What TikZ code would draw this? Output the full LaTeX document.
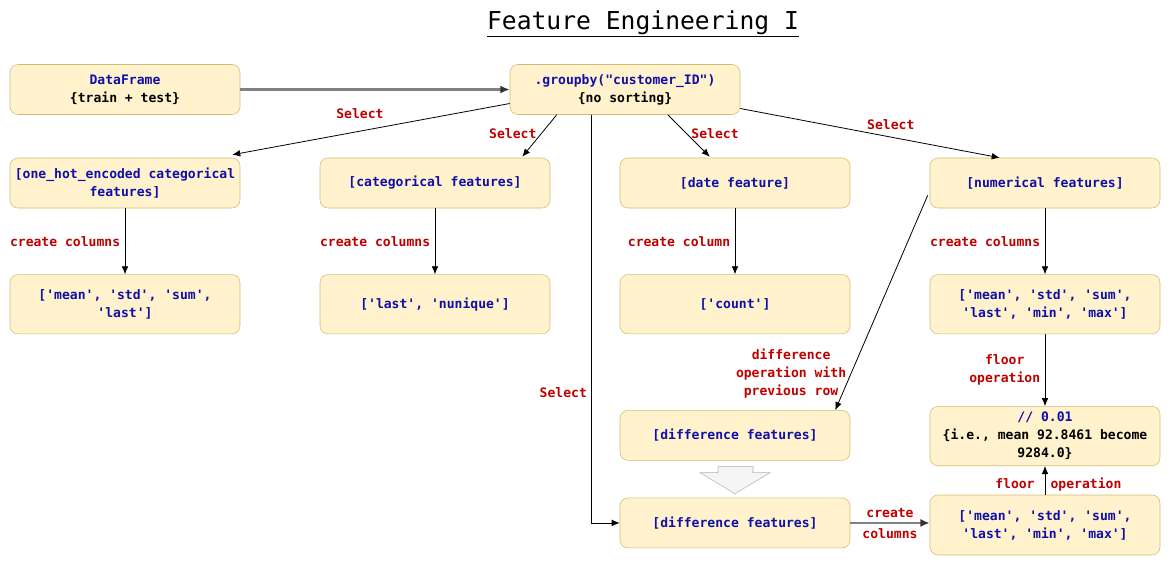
\documentclass[tikz,border=0pt]{standalone}
\usepackage{fontspec}
\setmonofont{DejaVu Sans Mono}
\usepackage{xcolor}
\usepackage{tikz}
\usetikzlibrary{arrows.meta,positioning,calc}

\definecolor{boxfill}{RGB}{255,242,204}
\definecolor{boxline}{RGB}{210,185,115}
\definecolor{boxtext}{RGB}{15,15,170}
\definecolor{lblred}{RGB}{190,0,0}

\begin{document}
\begin{tikzpicture}[x=0.75pt,y=-0.75pt,>={Latex[length=6pt,width=5pt]},
  feat/.style={rectangle,rounded corners=6pt,draw=boxline,fill=boxfill,text=boxtext,
    minimum width=172.5pt,minimum height=37.5pt,align=center,
    font=\ttfamily\bfseries\fontsize{9.8}{13.5}\selectfont},
  tall/.style={feat,minimum height=44.5pt},
  lbl/.style={text=lblred,align=center,font=\ttfamily\bfseries\fontsize{9.8}{13.5}\selectfont},
  link/.style={->,line width=0.6pt},
  mainlink/.style={-{Latex[length=7pt,width=6pt,color=black!80]},line width=1.6pt,draw=gray}]
\useasboundingbox (0,0) rectangle (1174,565);

\node (title) at (643,24) {\ttfamily\fontsize{18.5}{22}\selectfont\underline{Feature Engineering I}};

\node[feat] (df) at (125,89.5) {DataFrame\\\color{black}\{train + test\}};
\node[feat] (grp) at (625,89.5) {.groupby("customer\_ID")\\\color{black}\{no sorting\}};

\node[feat] (ohe) at (125,183) {[one\_hot\_encoded categorical\\features]};
\node[feat] (cat) at (435,183) {[categorical features]};
\node[feat] (date) at (735,183) {[date feature]};
\node[feat] (num) at (1045,183) {[numerical features]};

\node[tall,below=49.5pt of ohe] (ohecols) {['mean', 'std', 'sum',\\'last']};
\node[tall,below=49.5pt of cat] (catcols) {['last', 'nunique']};
\node[tall,below=49.5pt of date] (cnt) {['count']};
\node[tall,below=49.5pt of num] (numcols) {['mean', 'std', 'sum',\\'last', 'min', 'max']};
\node[tall,below=54pt of numcols] (flr) {// 0.01\\\color{black}\{i.e., mean 92.8461 become\\\color{black}9284.0\}};

\node[feat,below=57pt of cnt] (dif1) {[difference features]};
\node[feat,below=27.75pt of dif1] (dif2) {[difference features]};
\node[tall,minimum height=45pt] (agg2) at (1045,525) {['mean', 'std', 'sum',\\'last', 'min', 'max']};

% hollow arrow between the two difference boxes
\draw[fill=gray!8,draw=gray!60] ($(dif1.south)+(-17,6)$) -- ++(35,0) -- ++(0,6) -- ++(17,0)
  -- ++(-35,21) -- ++(-35,-21) -- ++(18,0) -- cycle;

\draw[mainlink] (df) -- (grp);
\draw[link] ($(grp.west)+(0,14)$) -- ($(ohe.north east)+(-8,-3)$) node[lbl,pos=0.54,above=6pt] {Select};
\draw[link] ($(grp.south west)+(47,0)$) -- ($(cat.north east)+(-28,-1)$) node[lbl,pos=0.45,left] {Select};
\draw[link] ($(grp.south west)+(158,0)$) -- ($(date.north west)+(90,-1)$) node[lbl,pos=0.45,right] {Select};
\draw[link] ($(grp.east)+(0,19)$) -- ($(num.north west)+(70,0)$) node[lbl,pos=0.58,above=2pt] {Select};
\draw[link] ($(grp.south west)+(82,0)$) |- (dif2) node[lbl,pos=0.34,left] {Select};

\draw[link] (ohe) -- (ohecols) node[lbl,midway,left] {create columns};
\draw[link] (cat) -- (catcols) node[lbl,midway,left] {create columns};
\draw[link] (date) -- (cnt) node[lbl,midway,left] {create column};
\draw[link] (num) -- (numcols) node[lbl,midway,left] {create columns};

\draw[link] ($(num.south west)+(-2,-13)$) -- ($(dif1.north east)+(-15,0)$)
  node[lbl,pos=0.83,left] {difference\\operation with\\previous row};
\draw[link] (numcols) -- (flr) node[lbl,midway,left] {floor\\operation};
\draw[link] (agg2) -- (flr) node[lbl,midway,xshift=10pt,yshift=-3pt] {floor\hspace{12pt}operation};

\draw[mainlink] (dif2.east) -- (dif2.east -| agg2.west)
  node[lbl,midway,above] {create} node[lbl,midway,below] {columns};

\end{tikzpicture}
\end{document}
